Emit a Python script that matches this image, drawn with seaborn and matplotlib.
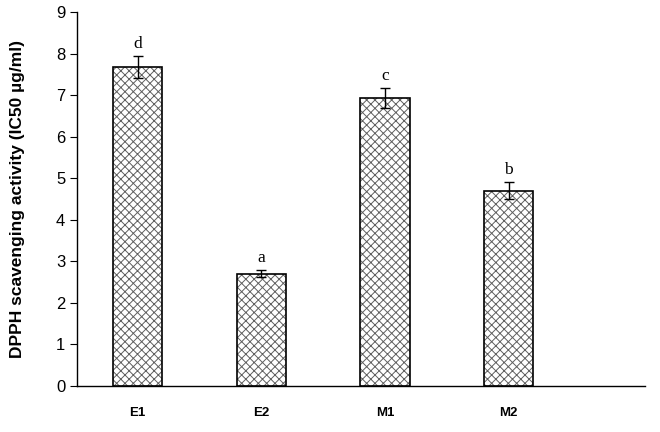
import pandas as pd
import numpy as np
import matplotlib
matplotlib.use("Agg")
import matplotlib.pyplot as plt
from matplotlib.patches import Rectangle
import seaborn as sns

# data
samples = ["E1", "E2", "M1", "M2"]
ic50 = [7.68, 2.70, 6.93, 4.70]
err = [0.26, 0.08, 0.24, 0.20]
letters = ["d", "a", "c", "b"]

df = pd.DataFrame({"sample": samples, "ic50": ic50, "err": err, "letter": letters})

sns.set_style("white")
plt.rcParams["font.family"] = ["Liberation Sans", "DejaVu Sans"]
plt.rcParams["hatch.linewidth"] = 0.7
plt.rcParams["text.color"] = "black"
plt.rcParams["axes.labelcolor"] = "black"
plt.rcParams["xtick.color"] = "black"
plt.rcParams["ytick.color"] = "black"

fig = plt.figure(figsize=(6.6, 4.32), dpi=100)
ax = fig.add_axes([0.1167, 0.1065, 0.8603, 0.8655])

# gray edge -> gray hatch, black outline drawn on top
sns.barplot(data=df, x="sample", y="ic50", color="white", width=0.4,
            edgecolor="#606060", linewidth=0, errorbar=None, ax=ax)
for p in list(ax.patches):
    p.set_hatch("xxxx")
    ax.add_patch(Rectangle(p.get_xy(), p.get_width(), p.get_height(),
                           fill=False, edgecolor="black", linewidth=1.2, zorder=3))

# error bars
ax.errorbar(np.arange(len(df)), df["ic50"], yerr=df["err"], fmt="none",
            ecolor="black", elinewidth=1.0, capsize=3.5, capthick=1.0, zorder=4)

# significance letters
for i, row in df.iterrows():
    ax.text(i, row["ic50"] + row["err"] + 0.1, row["letter"],
            ha="center", va="bottom", fontsize=12.5,
            family=["Liberation Serif", "DejaVu Serif"])

ax.set_ylim(0, 9)
ax.set_xlim(-0.49, 4.1)
ax.set_yticks(range(0, 10))
ax.tick_params(axis="y", labelsize=12, length=5, width=0.8, direction="out", left=True)
ax.tick_params(axis="x", length=0, pad=15)
for lab in ax.get_xticklabels():
    lab.set_fontweight("bold")
    lab.set_fontsize(9.5)

ax.set_xlabel("")
ax.set_ylabel("DPPH scavenging activity (IC50 µg/ml)", fontsize=12.5,
              fontweight="bold", labelpad=22)

sns.despine(ax=ax, top=True, right=True)
for s in ["left", "bottom"]:
    ax.spines[s].set_color("black")
    ax.spines[s].set_linewidth(1.0)

fig.savefig("out.png", dpi=100)
